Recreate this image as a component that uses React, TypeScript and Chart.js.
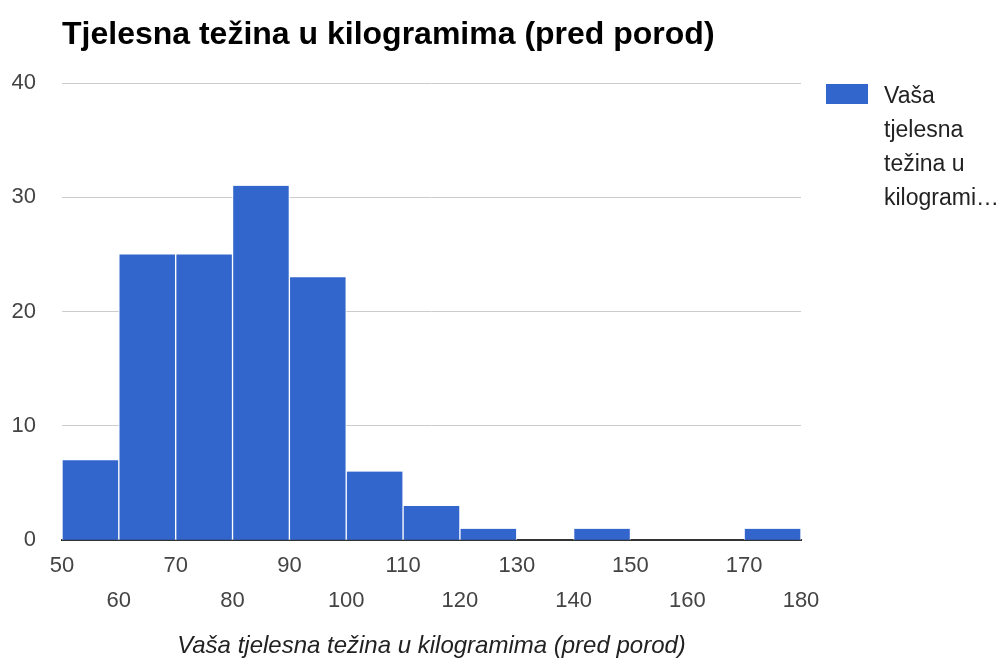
import React, { useEffect, useRef } from 'react';
import { Chart, registerables } from 'chart.js';

Chart.register(...registerables);

// ---- data ----
const binStarts = [50, 60, 70, 80, 90, 100, 110, 120, 130, 140, 150, 160, 170];
const binCounts = [7, 25, 25, 31, 23, 6, 3, 1, 0, 1, 0, 0, 1];
const binWidth = 10;
const xTickValues = [50, 60, 70, 80, 90, 100, 110, 120, 130, 140, 150, 160, 170, 180];
const yTickValues = [0, 10, 20, 30, 40];
const chartTitle = 'Tjelesna težina u kilogramima (pred porod)';
const xAxisTitle = 'Vaša tjelesna težina u kilogramima (pred porod)';
const seriesName = 'Vaša tjelesna težina u kilogramima (pred porod)';
const legendLines = ['Vaša', 'tjelesna', 'težina u', 'kilogrami…'];

const FONT = '"Liberation Sans", Arial, sans-serif';
const BAR_COLOR = '#3366cc';

const decorations = {
  id: 'decorations',
  afterDraw(chart: any) {
    const ctx = chart.ctx;
    const area = chart.chartArea;
    ctx.save();
    ctx.textAlign = 'left';
    ctx.textBaseline = 'alphabetic';
    ctx.fillStyle = '#000';
    ctx.font = `bold 32px ${FONT}`;
    ctx.fillText(chartTitle, area.left, 44);

    const ds = chart.data.datasets[0];
    const boxX = area.right + 25;
    const boxY = area.top + 1;
    ctx.fillStyle = ds.backgroundColor;
    ctx.fillRect(boxX, boxY, 42, 20);
    ctx.font = `23px ${FONT}`;
    ctx.fillStyle = '#222';
    ctx.textBaseline = 'middle';
    legendLines.forEach((line, i) => {
      ctx.fillText(line, boxX + 58, boxY + 13 + i * 34);
    });
    ctx.restore();
  },
};

export default function App() {
  const canvasRef = useRef<HTMLCanvasElement | null>(null);

  useEffect(() => {
    const canvas = canvasRef.current;
    if (!canvas) return;
    const chart = new Chart(canvas, {
      type: 'bar',
      data: {
        datasets: [
          {
            label: seriesName,
            data: binStarts.map((s, i) => ({ x: s + binWidth / 2, y: binCounts[i] })),
            backgroundColor: BAR_COLOR,
            borderColor: '#ffffff',
            borderWidth: { top: 0, bottom: 0, left: 1, right: 1 },
            borderSkipped: 'start',
            barPercentage: 1,
            categoryPercentage: 1,
          },
        ],
      },
      options: {
        animation: false,
        responsive: false,
        maintainAspectRatio: false,
        layout: { padding: { top: 83, right: 205, bottom: 0, left: 0 } },
        plugins: {
          legend: { display: false },
          title: { display: false },
          tooltip: { enabled: false },
        },
        scales: {
          x: {
            type: 'linear',
            min: 50,
            max: 180,
            offset: false,
            afterBuildTicks: (scale: any) => {
              scale.ticks = xTickValues.map((v) => ({ value: v }));
            },
            grid: { display: false, drawTicks: false, offset: false },
            border: { display: true, color: '#333333', width: 2 },
            ticks: {
              autoSkip: false,
              maxRotation: 0,
              minRotation: 0,
              padding: 8,
              color: '#444444',
              font: { family: FONT, size: 22, lineHeight: 35 / 22 },
              callback: (value: any, index: number) =>
                index % 2 === 0 ? [String(value), ''] : ['', String(value)],
            },
            title: {
              display: true,
              text: xAxisTitle,
              color: '#222222',
              font: { family: FONT, size: 24, style: 'italic', lineHeight: 1.2 },
              padding: { top: 6, bottom: 0 },
            },
          },
          y: {
            min: 0,
            max: 40,
            afterBuildTicks: (scale: any) => {
              scale.ticks = yTickValues.map((v) => ({ value: v }));
            },
            afterFit: (scale: any) => {
              scale.width = 62;
            },
            grid: { color: '#cccccc', lineWidth: 1, drawTicks: false },
            border: { display: false },
            ticks: {
              padding: 26,
              color: '#444444',
              font: { family: FONT, size: 22 },
            },
          },
        },
      },
      plugins: [decorations],
    });
    return () => chart.destroy();
  }, []);

  return (
    <div style={{ position: 'absolute', left: 0, top: 0, width: 1006, height: 661, background: '#fff' }}>
      <canvas ref={canvasRef} width={1006} height={661} style={{ display: 'block', width: 1006, height: 661 }} />
    </div>
  );
}
